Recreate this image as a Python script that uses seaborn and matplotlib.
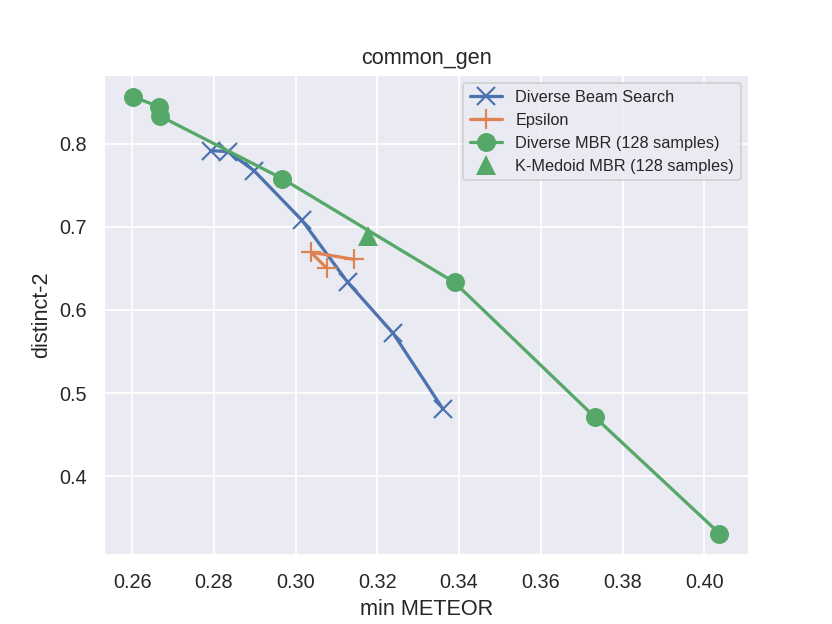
import seaborn as sns
import matplotlib.pyplot as plt

# data
dbs_meteor = [0.2794, 0.2834, 0.2898, 0.3016, 0.3127, 0.3239, 0.3361]
dbs_distinct = [0.7916, 0.7904, 0.7676, 0.7076, 0.6335, 0.5716, 0.4804]

eps_meteor = [0.3076, 0.3037, 0.3143]
eps_distinct = [0.6503, 0.6695, 0.6607]

dmbr_meteor = [0.2603, 0.2665, 0.2669, 0.2967, 0.3389, 0.3732, 0.4037]
dmbr_distinct = [0.8564, 0.8444, 0.8330, 0.7580, 0.6330, 0.4710, 0.3310]

kmed_meteor = [0.3177]
kmed_distinct = [0.6890]

sns.set_theme()
plt.rcParams['font.family'] = ['Liberation Sans', 'DejaVu Sans']

pal = sns.color_palette("deep")
blue, orange, green = pal[0], pal[1], pal[2]

fig, ax = plt.subplots(figsize=(6.4, 4.8), dpi=130)

sns.lineplot(x=dbs_meteor, y=dbs_distinct, sort=False, marker='x', ms=10,
             mew=1.2, mec=blue, color=blue, lw=1.8, label='Diverse Beam Search', ax=ax)
sns.lineplot(x=eps_meteor, y=eps_distinct, sort=False, marker='+', ms=11,
             mew=1.2, mec=orange, color=orange, lw=1.8, label='Epsilon', ax=ax)
sns.lineplot(x=dmbr_meteor, y=dmbr_distinct, sort=False, marker='o', ms=10.5,
             mew=0, mec=green, color=green, lw=1.8, label='Diverse MBR (128 samples)', ax=ax)
sns.lineplot(x=kmed_meteor, y=kmed_distinct, sort=False, marker='^', ms=11,
             mew=0, mec=green, color=green, lw=0, label='K-Medoid MBR (128 samples)', ax=ax)

ax.set_title('common_gen')
ax.set_xlabel('min METEOR')
ax.set_ylabel('distinct-2')
ax.set_xticks([0.26, 0.28, 0.30, 0.32, 0.34, 0.36, 0.38, 0.40])
ax.legend(loc='upper right', fontsize=9)

plt.savefig('out.png', dpi=130)
